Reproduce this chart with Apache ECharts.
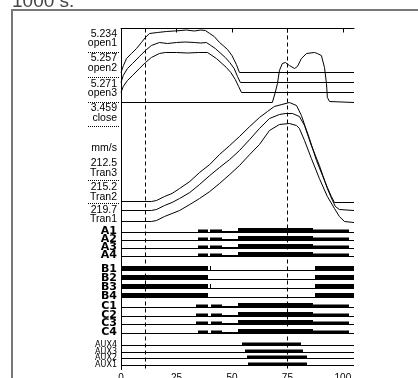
<!DOCTYPE html>
<html>
<head>
<meta charset="utf-8">
<script src="https://cdn.jsdelivr.net/npm/echarts@6/dist/echarts.min.js"></script>
<style>html,body{margin:0;padding:0;background:#fff}#main{width:418px;height:378px}</style>
</head>
<body>
<div id="main"></div>
<script>
var chart = echarts.init(document.getElementById('main'));

// time axis (ms), cursors
var timeEnd = 105;
var cursors = [11, 75];

// analog traces: [time, trace position from top of plot]
var open1 = [[0,44],[1.1,37],[2.5,30],[4.7,25],[7,20],[9.2,14],[11,9],[12.8,5],[16.4,4],[20.5,3],[24,2.5],[27,2],[29.5,1.5],[33,2.5],[36,1.5],[38,2],[40,5],[42,8],[44.4,14],[46,17],[48,21],[50,27],[52,36],[53.4,44],[105,44]];
var open2 = [[0,54],[1,47],[2.9,40],[5.2,35],[8.3,28],[11,22],[13.7,17],[17.3,14],[21,15],[25,14],[29,13.5],[33,14],[36,14.5],[38.5,14],[40.5,17],[42.5,20],[45,25],[47,29],[49,34],[51,40],[52.5,48],[53.8,54],[105,54]];
var open3 = [[0,64],[1,58],[2.9,52],[5.2,47],[8.3,40],[11,34],[13.7,29],[17.3,25],[20,24],[25,24],[30,24.5],[35,24],[39,24],[41,27],[43,30],[45.5,35],[47.5,39],[49.5,44],[51.5,51],[53,58],[54.3,64],[105,64]];
var closeTrace = [[0,74],[68.2,74],[69.5,64],[70.5,55],[71.4,42],[72.7,35],[74.1,34],[75.9,37],[78.2,40],[79.5,38],[81.3,30],[83.6,25],[87.2,24],[88.5,25],[90.3,27],[91.7,39],[92.6,55],[93,69],[94,73],[94.8,74],[105,74]];
var tran3 = [[0,173],[13.7,173],[16,172],[19.6,168],[23,165],[26.4,160],[31,153],[35.4,144],[40,136],[44.4,126],[49,117],[53.4,108],[58,98],[62.4,89],[66,83],[69.1,78],[72.5,76],[75.9,74],[79.1,77],[81.3,87],[83,98],[84.9,110],[88.1,132],[90.8,147],[93,159],[94.8,168],[96.2,174],[105,174]];
var tran2 = [[0,182],[13.7,182],[16,181],[19.6,177],[23,174],[26.4,170],[31,164],[35.4,156],[40,147],[44.4,139],[49,131],[53.4,122],[58,111],[62.4,100],[66.9,90],[71.4,86],[74,85],[77.3,85],[80.4,88],[82.7,97],[85.8,117],[89.4,137],[93,160],[95.3,172],[96.6,178],[98.4,181],[105,182]];
var tran1 = [[0,193],[13.7,193],[16,192],[19.6,188],[23,185],[26.4,182],[31,176],[35.4,170],[40,163],[44.4,155],[49,146],[53.4,137],[58,126],[62.4,116],[66.9,102],[71.4,96],[75.9,95],[79.1,97],[80.4,100],[82.7,112],[85.8,130],[89.4,150],[93,168],[96.2,180],[98.4,188],[100.7,193],[105,194]];

// analog labels [text, position], dotted separators
var analogLabels = [['5.234',6],['open1',15],['5.257',30],['open2',40],['5.271',56],['open3',65],['3.459',80],['close',90],['mm/s',120],['212.5',135],['Tran3',145],['215.2',159],['Tran2',169],['219.7',182],['Tran1',191]];
var separators = [24, 49, 74, 98, 152, 175];

// digital channels: names, baselines, segments [start, end, level]
var aNames = ['A1','A2','A3','A4'];
var aBase = [204, 212, 220, 228];
var aSegs = [[34.9,39.0,2],[40.3,45.3,2],[45.3,52.5,1],[52.5,86.3,3],[86.3,102.9,2]];
var bNames = ['B1','B2','B3','B4'];
var bBase = [242, 251, 260, 269];
var bSegsTick = [[0,39.0,3],[40.1,40.7,3],[87.2,105,3]];
var bSegs = [[0,39.0,3],[87.2,105,3]];
var cNames = ['C1','C2','C3','C4'];
var cBase = [279, 288, 296, 305];
var cSegs = [[34.0,39.0,2],[40.7,45.3,2],[45.3,52.5,1],[52.5,86.3,3],[86.3,102.9,2]];
var c4Segs = [[34.9,39.0,2],[40.7,45.3,2],[45.3,52.5,1],[52.5,86.3,3],[86.3,102.9,2]];
var auxNames = ['AUX4','AUX3','AUX2','AUX1'];
var auxBase = [317, 324, 330, 337];
var auxSegs = [[[54.7,81.3,2]],[[56,81.8,2]],[[57,83.6,2]],[[57.4,83.6,2]]];

var barH = [0, 2, 3.5, 5];

var rows = [], segData = [], digLabels = [];
function addGroup(names, bases, segs, small) {
	for (var i = 0; i < names.length; i++) {
		rows.push([0, timeEnd, bases[i]]);
		segs[i].forEach(function(s) { segData.push([s[0], s[1], s[2], bases[i]]); });
		digLabels.push([names[i], bases[i] - 1, small]);
	}
}
addGroup(aNames, aBase, [aSegs, aSegs, aSegs, aSegs], false);
addGroup(bNames, bBase, [bSegsTick, bSegs, bSegsTick, bSegs], false);
addGroup(cNames, cBase, [cSegs, cSegs, cSegs, c4Segs], false);
addGroup(auxNames, auxBase, auxSegs, true);

function trace(name, data) {
	return {
		name: name, type: 'line', data: data, showSymbol: false, symbol: 'none',
		lineStyle: { color: '#000', width: 1 }, silent: true, z: 3
	};
}

var series = [
	trace('open1', open1), trace('open2', open2), trace('open3', open3), trace('close', closeTrace),
	trace('Tran3', tran3), trace('Tran2', tran2), trace('Tran1', tran1),
	{
		type: 'custom', name: 'rows', data: rows, encode: { x: [0, 1], y: 2 }, silent: true,
		renderItem: function(params, api) {
			var a = api.coord([api.value(0), api.value(2)]);
			var b = api.coord([api.value(1), api.value(2)]);
			return { type: 'line', shape: { x1: a[0], y1: a[1], x2: b[0], y2: b[1] }, style: { stroke: '#000', lineWidth: 1 } };
		}
	},
	{
		type: 'custom', name: 'contacts', data: segData, encode: { x: [0, 1], y: 3 }, silent: true,
		renderItem: function(params, api) {
			var a = api.coord([api.value(0), api.value(3)]);
			var b = api.coord([api.value(1), api.value(3)]);
			var h = barH[api.value(2)];
			var x0 = Math.round(a[0]), x1 = Math.max(Math.round(b[0]), x0 + 1);
			return { type: 'rect', shape: { x: x0, y: Math.round(a[1] + 0.5) - h, width: x1 - x0, height: h }, style: { fill: '#000' } };
		},
		markLine: {
			silent: true, symbol: ['none', 'none'], label: { show: false },
			lineStyle: { color: '#000', width: 1, type: [4, 3] },
			data: cursors.map(function(c) { return { xAxis: c }; })
		}
	}
];

var option = {
	animation: false,
	backgroundColor: '#fff',
	grid: { left: 121, top: 28.5, width: 233, height: 341, outerBoundsMode: 'none', containLabel: false },
	xAxis: {
		type: 'value', min: 0, max: timeEnd, interval: 25,
		axisLine: { lineStyle: { color: '#000', width: 1 } },
		axisTick: { length: 4, lineStyle: { color: '#000' } },
		axisLabel: { showMaxLabel: false, fontSize: 10, color: '#000', margin: 4, fontFamily: 'Liberation Sans' },
		splitLine: { show: false }
	},
	yAxis: {
		type: 'value', min: 0, max: 341, inverse: true,
		axisLine: { show: true, lineStyle: { color: '#000', width: 1 } },
		axisTick: { show: false }, axisLabel: { show: false }, splitLine: { show: false }
	},
	series: series
};
chart.setOption(option);

// left labels, frame and title
var gr = [
	{ type: 'rect', z: -1, shape: { x: 12, y: 10, width: 600, height: 600 }, style: { fill: null, stroke: '#777', lineWidth: 2 } },
	{ type: 'text', x: 12, y: 11, style: { text: '1000 s.', font: '19px "Liberation Sans"', fill: '#444', align: 'left', verticalAlign: 'bottom', textAlign: 'left', textVerticalAlign: 'bottom' } }
];
analogLabels.forEach(function(l) {
	var p = chart.convertToPixel({ gridIndex: 0 }, [0, l[1]]);
	gr.push({ type: 'text', x: 117, y: p[1], style: { text: l[0], font: '10.5px "Liberation Sans"', fill: '#000', align: 'right', verticalAlign: 'middle', textAlign: 'right', textVerticalAlign: 'middle' } });
});
separators.forEach(function(s) {
	var p = chart.convertToPixel({ gridIndex: 0 }, [0, s]);
	gr.push({ type: 'line', shape: { x1: 88, y1: p[1], x2: 120, y2: p[1] }, style: { stroke: '#000', lineWidth: 1, lineDash: [1, 1] } });
});
digLabels.forEach(function(l) {
	var p = chart.convertToPixel({ gridIndex: 0 }, [0, l[1]]);
	gr.push({ type: 'text', x: 117, y: p[1], style: { text: l[0], font: (l[2] ? '8px' : 'bold 11px') + ' "DejaVu Sans"', fill: '#000', align: 'right', verticalAlign: 'middle', textAlign: 'right', textVerticalAlign: 'middle' } });
});
chart.setOption({ graphic: gr });
</script>
</body>
</html>
